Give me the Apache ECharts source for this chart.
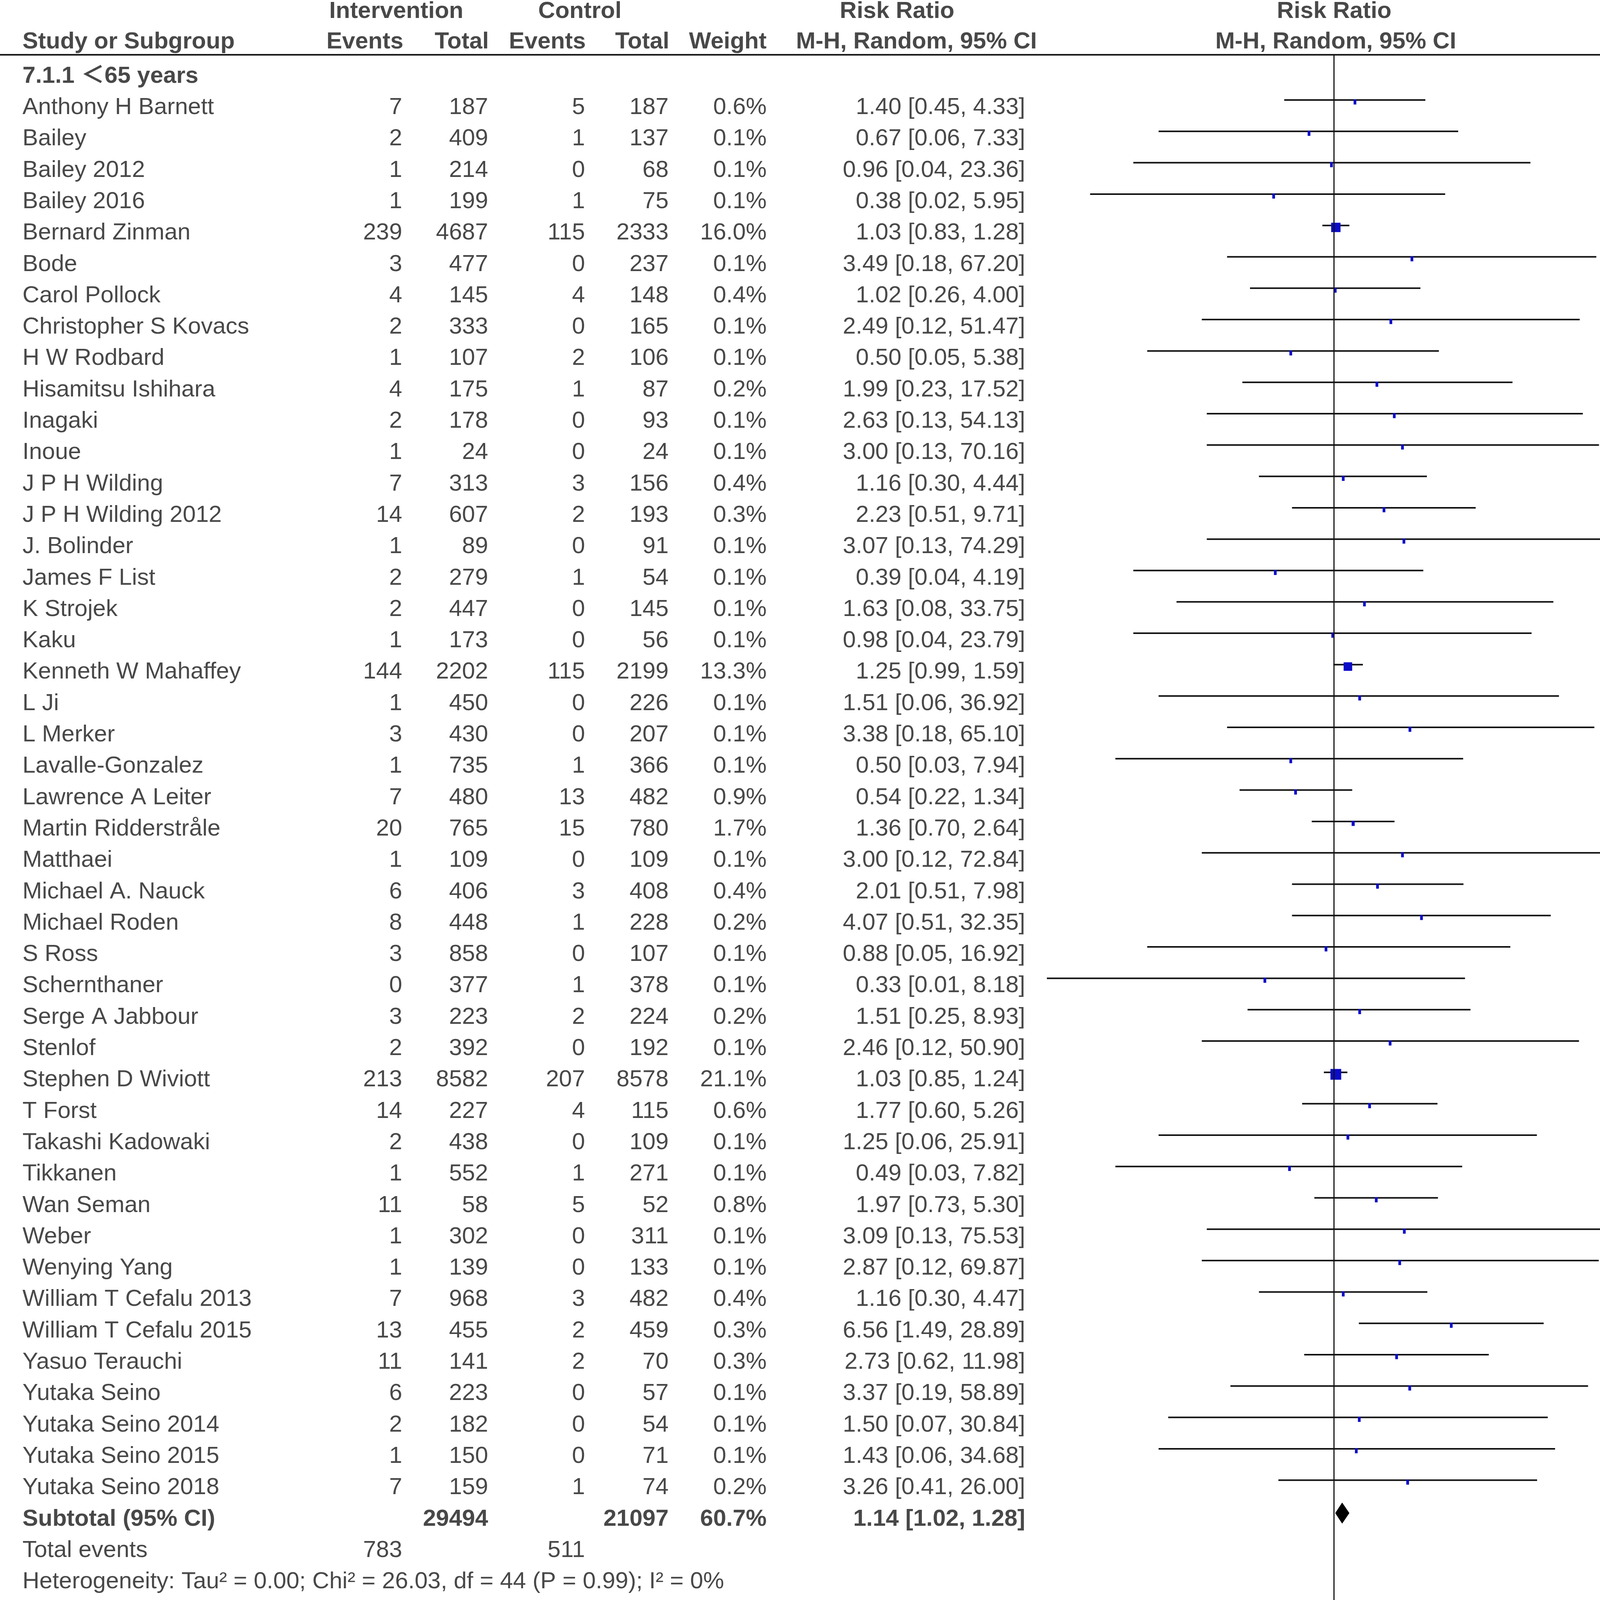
<!DOCTYPE html>
<html><head><meta charset="utf-8">
<script src="https://cdn.jsdelivr.net/npm/echarts@6/dist/echarts.min.js"></script>
<style>html,body{margin:0;padding:0;background:#fff}#c{width:4212px;height:5922px}</style>
</head><body><div id="c"></div><script>
// ---------- DATA ----------
const studies1 = ["Anthony H Barnett","Bailey","Bailey 2012","Bailey 2016","Bernard Zinman","Bode","Carol Pollock","Christopher S Kovacs","H W Rodbard","Hisamitsu Ishihara","Inagaki","Inoue","J P H Wilding","J P H Wilding 2012","J. Bolinder","James F List","K Strojek","Kaku","Kenneth W Mahaffey","L Ji","L Merker","Lavalle-Gonzalez","Lawrence A Leiter","Martin Ridderstråle","Matthaei","Michael A. Nauck","Michael Roden","S Ross","Schernthaner","Serge A Jabbour","Stenlof","Stephen D Wiviott","T Forst","Takashi Kadowaki","Tikkanen","Wan Seman","Weber","Wenying Yang","William T Cefalu 2013","William T Cefalu 2015","Yasuo Terauchi","Yutaka Seino","Yutaka Seino 2014","Yutaka Seino 2015","Yutaka Seino 2018"];
const iEvents1 = [7,2,1,1,239,3,4,2,1,4,2,1,7,14,1,2,2,1,144,1,3,1,7,20,1,6,8,3,0,3,2,213,14,2,1,11,1,1,7,13,11,6,2,1,7];
const iTotal1 = [187,409,214,199,4687,477,145,333,107,175,178,24,313,607,89,279,447,173,2202,450,430,735,480,765,109,406,448,858,377,223,392,8582,227,438,552,58,302,139,968,455,141,223,182,150,159];
const cEvents1 = [5,1,0,1,115,0,4,0,2,1,0,0,3,2,0,1,0,0,115,0,0,1,13,15,0,3,1,0,1,2,0,207,4,0,1,5,0,0,3,2,2,0,0,0,1];
const cTotal1 = [187,137,68,75,2333,237,148,165,106,87,93,24,156,193,91,54,145,56,2199,226,207,366,482,780,109,408,228,107,378,224,192,8578,115,109,271,52,311,133,482,459,70,57,54,71,74];
const weight1 = [0.6,0.1,0.1,0.1,16.0,0.1,0.4,0.1,0.1,0.2,0.1,0.1,0.4,0.3,0.1,0.1,0.1,0.1,13.3,0.1,0.1,0.1,0.9,1.7,0.1,0.4,0.2,0.1,0.1,0.2,0.1,21.1,0.6,0.1,0.1,0.8,0.1,0.1,0.4,0.3,0.3,0.1,0.1,0.1,0.2];
const rr1 = [1.40,0.67,0.96,0.38,1.03,3.49,1.02,2.49,0.50,1.99,2.63,3.00,1.16,2.23,3.07,0.39,1.63,0.98,1.25,1.51,3.38,0.50,0.54,1.36,3.00,2.01,4.07,0.88,0.33,1.51,2.46,1.03,1.77,1.25,0.49,1.97,3.09,2.87,1.16,6.56,2.73,3.37,1.50,1.43,3.26];
const lo1 = [0.45,0.06,0.04,0.02,0.83,0.18,0.26,0.12,0.05,0.23,0.13,0.13,0.30,0.51,0.13,0.04,0.08,0.04,0.99,0.06,0.18,0.03,0.22,0.70,0.12,0.51,0.51,0.05,0.01,0.25,0.12,0.85,0.60,0.06,0.03,0.73,0.13,0.12,0.30,1.49,0.62,0.19,0.07,0.06,0.41];
const hi1 = [4.33,7.33,23.36,5.95,1.28,67.20,4.00,51.47,5.38,17.52,54.13,70.16,4.44,9.71,74.29,4.19,33.75,23.79,1.59,36.92,65.10,7.94,1.34,2.64,72.84,7.98,32.35,16.92,8.18,8.93,50.90,1.24,5.26,25.91,7.82,5.30,75.53,69.87,4.47,28.89,11.98,58.89,30.84,34.68,26.00];

const studies2 = ["Allegretti, A. S.","Anthony H Barnett","Anthony H Barnett","Deepak L Bhatt","Donald E Kohan","Jonathan W Cunningham","Matthew M Y Lee","McMurray","Milton Packer","Yale"];
const iEvents2 = [6,2,1,57,19,42,29,2,197,1];
const iTotal2 = [157,37,195,608,168,3131,52,2373,1863,179];
const cEvents2 = [5,2,1,54,5,32,31,5,184,0];
const cTotal2 = [155,37,95,614,84,3132,53,2371,1867,90];
const weight2 = [0.6,0.2,0.1,6.0,0.8,3.6,6.8,0.3,20.8,0.1];
const rr2 = [1.18,1.00,0.49,1.07,1.90,1.31,0.95,0.40,1.07,1.52];
const lo2 = [0.37,0.15,0.03,0.75,0.74,0.83,0.68,0.08,0.89,0.06];
const hi2 = [3.80,6.73,7.70,1.52,4.91,2.07,1.33,2.06,1.30,36.86];

const sumLabels = ["Subtotal (95% CI)","Subtotal (95% CI)","Total (95% CI)"];
const sumITotal = [29494, 8763, 38257];
const sumCTotal = [21097, 8498, 29595];
const sumWeight = [60.7, 39.3, 100.0];
const sumRR = [1.14, 1.07, 1.11];
const sumLo = [1.02, 0.94, 1.02];
const sumHi = [1.28, 1.23, 1.22];
const sumIEvents = [783, 356, 1139];
const sumCEvents = [511, 319, 830];
const hetText = ["Heterogeneity: Tau² = 0.00; Chi² = 26.03, df = 44 (P = 0.99); I² = 0%","Heterogeneity: Tau² = 0.00; Chi² = 4.46, df = 9 (P = 0.88); I² = 0%","Heterogeneity: Tau² = 0.00; Chi² = 30.97, df = 54 (P = 1.00); I² = 0%"];
const effText = ["Test for overall effect: Z = 2.32 (P = 0.02)","Test for overall effect: Z = 1.02 (P = 0.31)","Test for overall effect: Z = 2.45 (P = 0.01)"];
const subgroupDiffText = "Test for subgroup differences: Chi² = 0.43, df = 1 (P = 0.51), I² = 0%";
const groupTitles = ["7.1.1 ＜65 years","7.1.2 ⩾65 years"];
const tickValues = [0.01, 0.1, 1, 10, 100];
const tickLabels = ["0.01","0.1","1","10","100"];
const favours = ["Favours [Intervention]","Favours [control]"];

const FONT = "'Liberation Sans', Arial, 'DejaVu Sans', 'Noto Sans CJK SC', sans-serif";
const ROWH = 80.3, Y0 = 276, H = 5922, W = 4212, AXIS_Y = 5715;
const yMin = -Y0 / ROWH, yMax = (H - Y0) / ROWH, yAxisMax = (AXIS_Y - Y0) / ROWH;
const COL = {name:58, ie:1030, it:1250, ce:1498, ct:1712, w:1963, ci:2625};
const fmtCI = (r,l,h) => r.toFixed(2)+" ["+l.toFixed(2)+", "+h.toFixed(2)+"]";

const texts = [];
function T(x, row, s, align, bold, size, color){
  texts.push({value:[x,row], t:s, label:{align:align, fontWeight: bold?'bold':'normal', fontSize: size||60, color: color||'#1a1a1a'}});
}
T(1015,-3.06,"Intervention",'center',true);
T(1485,-3.06,"Control",'center',true);
T(2297,-3.06,"Risk Ratio",'center',true);
T(3416,-3.06,"Risk Ratio",'center',true);
T(COL.name,-2.09,"Study or Subgroup",'left',true);
T(1033,-2.09,"Events",'right',true);
T(1252,-2.09,"Total",'right',true);
T(1500,-2.09,"Events",'right',true);
T(1714,-2.09,"Total",'right',true);
T(1963,-2.09,"Weight",'right',true);
T(2655,-2.09,"M-H, Random, 95% CI",'right',true);
T(3420,-2.09,"M-H, Random, 95% CI",'center',true);

const forestStudies = [], forestDiamonds = [];
function addGroup(start, names, ie, it, ce, ct, w, rr, lo, hi){
  names.forEach((n,i)=>{
    const r = start+i;
    T(COL.name,r,n,'left');
    T(COL.ie,r,String(ie[i]),'right');
    T(COL.it,r,String(it[i]),'right');
    T(COL.ce,r,String(ce[i]),'right');
    T(COL.ct,r,String(ct[i]),'right');
    T(COL.w,r,w[i].toFixed(1)+"%",'right');
    T(COL.ci,r,fmtCI(rr[i],lo[i],hi[i]),'right');
    forestStudies.push([rr[i],lo[i],hi[i],r,w[i]]);
  });
}
function addSummary(k, r){
  T(COL.name,r,sumLabels[k],'left',true);
  T(COL.it,r,String(sumITotal[k]),'right',true);
  T(COL.ct,r,String(sumCTotal[k]),'right',true);
  T(COL.w,r,sumWeight[k].toFixed(1)+"%",'right',true);
  T(COL.ci,r,fmtCI(sumRR[k],sumLo[k],sumHi[k]),'right',true);
  forestDiamonds.push([sumRR[k],sumLo[k],sumHi[k],r]);
  T(COL.name,r+1,"Total events",'left');
  T(COL.ie,r+1,String(sumIEvents[k]),'right');
  T(COL.ce,r+1,String(sumCEvents[k]),'right');
  T(COL.name,r+2,hetText[k],'left');
  T(COL.name,r+3,effText[k],'left');
}
T(COL.name,-1,groupTitles[0],'left',true);
addGroup(0,studies1,iEvents1,iTotal1,cEvents1,cTotal1,weight1,rr1,lo1,hi1);
addSummary(0,45);
T(COL.name,50,groupTitles[1],'left',true);
addGroup(51,studies2,iEvents2,iTotal2,cEvents2,cTotal2,weight2,rr2,lo2,hi2);
addSummary(1,61);
addSummary(2,66);
T(COL.name,70,subgroupDiffText,'left');

const favData = [
  {value:[1,69.48], t:favours[0], label:{align:'right', offset:[-28,0]}},
  {value:[1,69.48], t:favours[1], label:{align:'left', offset:[28,0]}}
];
const tickData = tickValues.map(v => [v, yAxisMax]);

function renderStudy(params, api){
  const row = api.value(3);
  const pL = api.coord([api.value(1), row]);
  const pH = api.coord([api.value(2), row]);
  const pC = api.coord([api.value(0), row]);
  const y = pC[1] - 20;
  const s = 6*Math.sqrt(api.value(4));
  const w = Math.max(7, s), h = Math.max(13, s);
  return {type:'group', children:[
    {type:'line', shape:{x1:pL[0], y1:y, x2:pH[0], y2:y}, style:{stroke:'#111', lineWidth:4}},
    {type:'rect', shape:{x:pC[0]-w/2, y:y+5-h/2, width:w, height:h}, style:{fill:'#0b0bc8'}}
  ]};
}
function renderDiamond(params, api){
  const row = api.value(3);
  const pL = api.coord([api.value(1), row]);
  const pH = api.coord([api.value(2), row]);
  const pC = api.coord([api.value(0), row]);
  const y = pC[1] - 16;
  return {type:'polygon', shape:{points:[[pL[0],y],[pC[0],y-27],[pH[0],y],[pC[0],y+27]]}, style:{fill:'#000'}};
}
function renderTick(params, api){
  const p = api.coord([api.value(0), api.value(1)]);
  return {type:'line', shape:{x1:p[0], y1:p[1]-19, x2:p[0], y2:p[1]+19}, style:{stroke:'#111', lineWidth:3}};
}

const chart = echarts.init(document.getElementById('c'), null, {renderer:'canvas'});
chart.setOption({
  animation:false,
  backgroundColor:'#fff',
  textStyle:{fontFamily:FONT},
  grid:[
    {left:0, right:0, top:0, bottom:0},
    {left:2680, width:1470, top:0, bottom:H-AXIS_Y}
  ],
  xAxis:[
    {gridIndex:0, type:'value', min:0, max:W, show:false},
    {gridIndex:1, type:'log', logBase:10, min:0.01, max:100, position:'bottom',
      axisLine:{show:true, onZero:false, lineStyle:{color:'#111', width:4}},
      axisTick:{show:false},
      axisLabel:{show:true, fontSize:59, margin:30, color:'#1a1a1a', fontFamily:FONT,
        formatter:v=>{const i=tickValues.findIndex(t=>Math.abs(t-v)<1e-9); return i>=0?tickLabels[i]:'';}},
      splitLine:{show:false}}
  ],
  yAxis:[
    {gridIndex:0, type:'value', min:yMin, max:yMax, inverse:true, show:false},
    {gridIndex:1, type:'value', min:yMin, max:yAxisMax, inverse:true, show:false}
  ],
  series:[
    {type:'line', xAxisIndex:0, yAxisIndex:0, symbol:'none', silent:true,
      lineStyle:{color:'#111', width:4}, data:[[0,-1.69],[4205,-1.69]]},
    {type:'line', xAxisIndex:1, yAxisIndex:1, symbol:'none', silent:true,
      lineStyle:{color:'#111', width:3}, data:[[1,-1.69],[1,yAxisMax]]},
    {type:'custom', xAxisIndex:1, yAxisIndex:1, renderItem:renderTick, clip:false,
      encode:{x:0, y:1}, data:tickData},
    {type:'custom', xAxisIndex:1, yAxisIndex:1, renderItem:renderStudy, clip:false,
      encode:{x:[0,1,2], y:3}, data:forestStudies},
    {type:'custom', xAxisIndex:1, yAxisIndex:1, renderItem:renderDiamond, clip:false,
      encode:{x:[0,1,2], y:3}, data:forestDiamonds},
    {type:'scatter', xAxisIndex:0, yAxisIndex:0, symbolSize:1, itemStyle:{color:'rgba(0,0,0,0)'},
      silent:true, data:texts,
      label:{show:true, position:[0,0], verticalAlign:'middle', fontFamily:FONT,
        formatter:p=>p.data.t}},
    {type:'scatter', xAxisIndex:1, yAxisIndex:1, symbolSize:1, itemStyle:{color:'rgba(0,0,0,0)'},
      silent:true, clip:false, data:favData,
      label:{show:true, position:[0,0], verticalAlign:'middle', fontFamily:FONT, fontSize:60, color:'#444',
        formatter:p=>p.data.t}}
  ]
});
</script></body></html>
